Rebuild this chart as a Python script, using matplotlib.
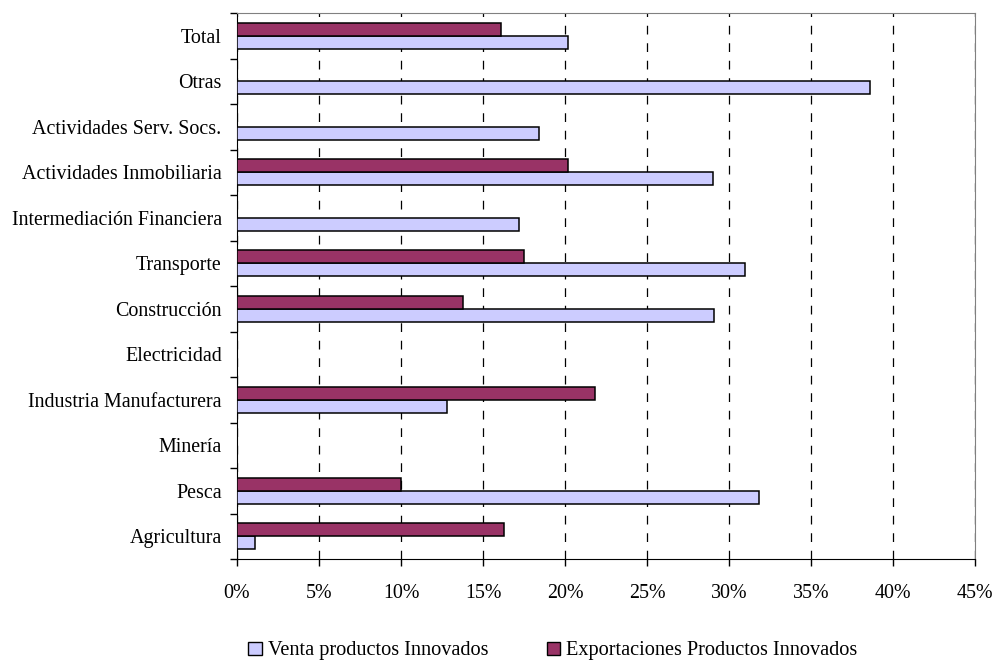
import matplotlib.pyplot as plt
import matplotlib.ticker as mticker
from matplotlib.patches import Patch
import numpy as np

# categorias (de abajo hacia arriba)
sectores = ['Agricultura', 'Pesca', 'Minería', 'Industria Manufacturera', 'Electricidad',
            'Construcción', 'Transporte', 'Intermediación Financiera',
            'Actividades Inmobiliaria', 'Actividades Serv. Socs.', 'Otras', 'Total']
venta = [1.1, 31.8, 0, 12.8, 0, 29.1, 31.0, 17.2, 29.0, 18.4, 38.6, 20.2]
exportaciones = [16.3, 10.0, 0, 21.8, 0, 13.8, 17.5, 0, 20.2, 0, 0, 16.1]

plt.rcParams['font.family'] = ['Liberation Serif', 'DejaVu Serif']

fig = plt.figure(figsize=(9.94, 6.62), dpi=100)
ax = fig.add_axes([237 / 994, 1 - 559 / 662, (975 - 237) / 994, (559 - 13) / 662])

y = np.arange(len(sectores))
h = 0.29
venta = np.array(venta)
exportaciones = np.array(exportaciones)
# sin barras vacias (valor cero)
mv = venta > 0
me = exportaciones > 0
ax.barh(y[mv] - h / 2, venta[mv], height=h, color='#CCCCFF', edgecolor='black', linewidth=1.1, zorder=3)
ax.barh(y[me] + h / 2, exportaciones[me], height=h, color='#993366', edgecolor='black', linewidth=1.1, zorder=3)

ax.set_xlim(0, 45)
ax.set_ylim(-0.5, len(sectores) - 0.5)
ax.xaxis.set_major_locator(mticker.MultipleLocator(5))
ax.xaxis.set_major_formatter(mticker.FuncFormatter(lambda v, p: f'{v:.0f}%'))
ax.grid(axis='x', color='black', linestyle=(0, (7, 7)), linewidth=0.9, zorder=0)

ax.set_yticks(y)
ax.set_yticklabels(sectores)
ax.set_yticks(np.arange(-0.5, len(sectores)), minor=True)
ax.tick_params(axis='y', which='major', length=0, pad=11, labelsize=14.4)
ax.tick_params(axis='y', which='minor', length=5, direction='out', width=1)
ax.tick_params(axis='x', length=5, direction='out', width=1, pad=13, labelsize=14.4)

for s in ['top', 'right']:
    ax.spines[s].set_color('#808080')
for s in ['left', 'bottom']:
    ax.spines[s].set_color('black')

handles = [Patch(facecolor='#CCCCFF', edgecolor='black', label='Venta productos Innovados'),
           Patch(facecolor='#993366', edgecolor='black', label='Exportaciones Productos Innovados')]
fig.legend(handles=handles, loc='center', bbox_to_anchor=(553 / 994, 1 - 651 / 662), ncol=2,
           frameon=False, fontsize=14.6, handlelength=0.65, handleheight=0.65,
           handletextpad=0.3, columnspacing=2.9, borderpad=0)

fig.savefig('out.png', dpi=100)
